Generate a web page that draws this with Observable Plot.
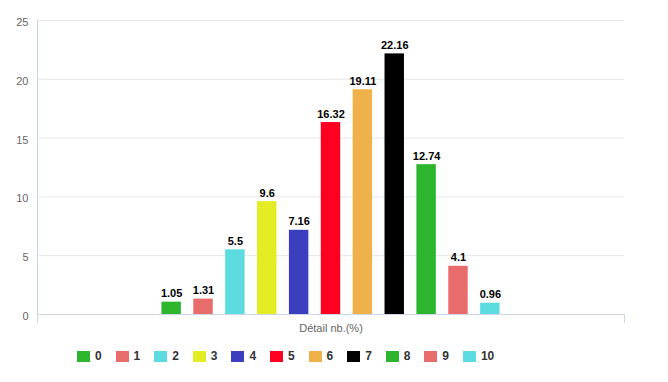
<!DOCTYPE html>
<html>
<head>
<meta charset="utf-8">
<script src="https://cdn.jsdelivr.net/npm/d3@7"></script>
<script src="https://cdn.jsdelivr.net/npm/@observablehq/plot@0.6"></script>
<style>
  body { margin: 0; background: #fff; font-family: "Liberation Sans", Arial, Helvetica, sans-serif; }
  #chart svg { display: block; }
  #legend { display: flex; padding-left: 77px; padding-top: 6px; height: 20px; }
  .item { display: flex; align-items: center; width: 38.6px; flex-shrink: 0; font-weight: bold; font-size: 12px; color: #333; }
  .sw { width: 13px; height: 11px; margin-right: 5px; flex-shrink: 0; }
</style>
</head>
<body>
<div id="chart"></div>
<div id="legend"></div>
<script>
const categories = ["Détail nb.(%)"];
const series = ["0", "1", "2", "3", "4", "5", "6", "7", "8", "9", "10"];
const values = [1.05, 1.31, 5.5, 9.6, 7.16, 16.32, 19.11, 22.16, 12.74, 4.1, 0.96];
const colors = ["#2eb52e", "#e96c6c", "#5cdce0", "#e4ec24", "#3b3fbd", "#ff0020", "#efb24b", "#000000", "#2eb52e", "#e96c6c", "#5cdce0"];
const yTicks = [0, 5, 10, 15, 20, 25];

const data = series.map((s, i) => ({cat: categories[0], series: s, value: values[i]}));

const W = 668, H = 340, mT = 20, mB = 26, mL = 37, mR = 44;
const font = "'Liberation Sans', Arial, Helvetica, sans-serif";

const chart = Plot.plot({
  width: W, height: H,
  marginTop: mT, marginBottom: mB, marginLeft: mL, marginRight: mR,
  style: {fontSize: "11px", fontFamily: font, background: "#fff"},
  fx: {domain: categories, padding: 0, label: null, round: false},
  x: {domain: series, paddingInner: 0.39, paddingOuter: 0.39, insetLeft: 112, insetRight: 112, round: false, axis: null},
  y: {domain: [0, 25], label: null},
  color: {domain: series, range: colors},
  marks: [
    Plot.gridY(yTicks, {stroke: "#e6e6e6", strokeOpacity: 1}),
    Plot.axisY(yTicks, {tickSize: 0, tickPadding: 9, fill: "#666", dy: 2, label: null, fontSize: 11}),
    Plot.axisFx({anchor: "bottom", tickSize: 0, tickPadding: 10, fill: "#666", label: null, fontSize: 11}),
    Plot.barY(data, {fx: "cat", x: "series", y: "value", fill: "series"}),
    Plot.text(data, {fx: "cat", x: "series", y: "value", text: d => String(d.value), dy: -5, lineAnchor: "bottom", fontWeight: "bold", fontSize: 11, fill: "#000"}),
    Plot.ruleY([0], {stroke: "#ccd6eb"}),
    Plot.frame({anchor: "left", stroke: "#ccd6eb", insetBottom: -8}),
    Plot.frame({anchor: "right", stroke: "#ccd6eb", insetTop: H - mT - mB, insetBottom: -8})
  ]
});
document.getElementById("chart").appendChild(chart);

const legend = document.getElementById("legend");
series.forEach((s, i) => {
  const item = document.createElement("div");
  item.className = "item";
  const sw = document.createElement("span");
  sw.className = "sw";
  sw.style.background = colors[i];
  item.appendChild(sw);
  item.appendChild(document.createTextNode(s));
  legend.appendChild(item);
});
</script>
</body>
</html>
